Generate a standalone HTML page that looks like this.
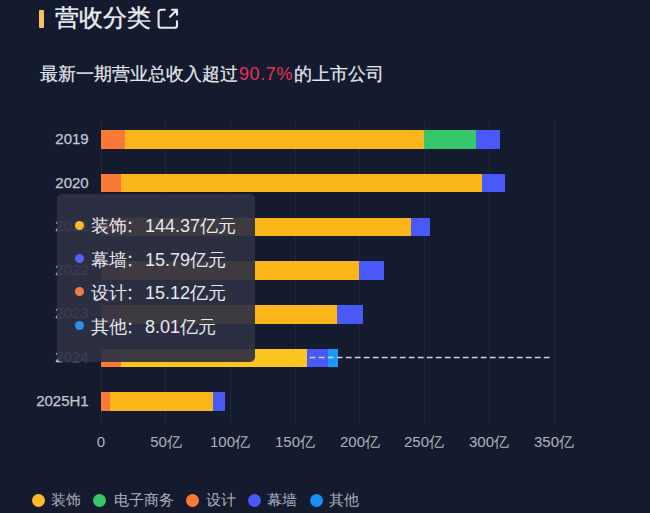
<!DOCTYPE html>
<html><head><meta charset="utf-8">
<style>
html,body{margin:0;padding:0;}
body{width:650px;height:513px;overflow:hidden;background:#141b2e;font-family:"Liberation Sans",sans-serif;position:relative;}
.a{position:absolute;white-space:nowrap;}
.tbar{left:39.2px;top:9.5px;width:4.6px;height:18px;background:#f2c462;border-radius:1px;}
.title{left:54.5px;top:1px;font-size:24px;line-height:34px;color:#eceef4;-webkit-text-stroke-width:0.35px;}
.sub{left:40px;top:60px;font-size:18px;line-height:28px;color:#e6e8ee;-webkit-text-stroke-width:0.2px;}
.sub b{font-weight:normal;color:#e5325a;-webkit-text-stroke-width:0;letter-spacing:0.6px;margin-left:1px;margin-right:0.5px;}
.yl{font-size:15px;line-height:20px;color:#c2c6d2;-webkit-text-stroke-width:0.25px;text-align:right;width:80px;left:8.7px;}
.g{width:1px;top:120px;height:304px;background:#1f2738;}
.bar{height:18.6px;}
.xl{font-size:15px;line-height:20px;color:#aeb2bf;width:60px;text-align:center;top:432.3px;}
.tip{left:57.2px;top:193.7px;width:197.5px;height:168.4px;border-radius:5px;background:rgba(46,48,68,0.93);}
.tr{left:91px;font-size:18px;line-height:26px;color:#e8e8ee;}
.td{width:9px;height:9px;border-radius:50%;}
.c{font-style:normal;font-weight:normal;-webkit-text-stroke-width:0.3px;display:inline-block;width:18px;text-align:left;padding-left:0.5px;box-sizing:border-box;}
.ld{width:13px;height:13px;border-radius:50%;top:493.5px;}
.lt{font-size:15.2px;line-height:20px;color:#acb0bd;top:489.9px;}
</style></head><body>
<div class="a tbar"></div>
<div class="a title">营收分类</div>
<svg class="a" style="left:156px;top:7px" width="24" height="24" viewBox="0 0 24 24">
<path d="M8.8 2.8 H5 Q2.6 2.8 2.6 5.2 V18.4 Q2.6 20.8 5 20.8 H18.6 Q21 20.8 21 18.4 V14.3" fill="none" stroke="#e6e8f0" stroke-width="2.1" stroke-linecap="round"/>
<path d="M14 9.8 L21 2.8 M16 2.8 H21 V7.8" fill="none" stroke="#e6e8f0" stroke-width="2.1" stroke-linecap="round" stroke-linejoin="round"/>
</svg>
<div class="a sub">最新一期营业总收入超过<b>90.7%</b>的上市公司</div>

<!-- grid -->
<div class="a g" style="left:101.4px"></div>
<div class="a g" style="left:165.4px"></div>
<div class="a g" style="left:230.4px"></div>
<div class="a g" style="left:295.4px"></div>
<div class="a g" style="left:359.4px"></div>
<div class="a g" style="left:424.4px"></div>
<div class="a g" style="left:489.4px"></div>
<div class="a g" style="left:554.4px"></div>

<!-- year labels -->
<div class="a yl" style="top:128.8px">2019</div>
<div class="a yl" style="top:172.5px">2020</div>
<div class="a yl" style="top:216.2px">2021</div>
<div class="a yl" style="top:259.5px">2022</div>
<div class="a yl" style="top:303.3px">2023</div>
<div class="a yl" style="top:347.4px">2024</div>
<div class="a yl" style="top:391.2px">2025H1</div>

<!-- bars -->
<div class="a bar" style="top:130.2px;left:101.4px;width:24px;background:#f97a36"></div>
<div class="a bar" style="top:130.2px;left:125.4px;width:299px;background:#fcb61a"></div>
<div class="a bar" style="top:130.2px;left:424.4px;width:52px;background:#36c76b"></div>
<div class="a bar" style="top:130.2px;left:476.4px;width:23.7px;background:#4859f7"></div>

<div class="a bar" style="top:173.9px;left:101.4px;width:20px;background:#f97a36"></div>
<div class="a bar" style="top:173.9px;left:121.4px;width:361px;background:#fcb61a"></div>
<div class="a bar" style="top:173.9px;left:482.4px;width:23px;background:#4859f7"></div>

<div class="a bar" style="top:217.7px;left:101.4px;width:20px;background:#f97a36"></div>
<div class="a bar" style="top:217.7px;left:121.4px;width:290px;background:#fcb61a"></div>
<div class="a bar" style="top:217.7px;left:411.4px;width:18.5px;background:#4859f7"></div>

<div class="a bar" style="top:261.4px;left:101.4px;width:20px;background:#f97a36"></div>
<div class="a bar" style="top:261.4px;left:121.4px;width:238px;background:#fcb61a"></div>
<div class="a bar" style="top:261.4px;left:359.4px;width:24.5px;background:#4859f7"></div>

<div class="a bar" style="top:305.1px;left:101.4px;width:20px;background:#f97a36"></div>
<div class="a bar" style="top:305.1px;left:121.4px;width:216px;background:#fcb61a"></div>
<div class="a bar" style="top:305.1px;left:337.4px;width:25.5px;background:#4859f7"></div>

<div class="a bar" style="top:348.6px;left:101.4px;width:20px;background:#f97a36"></div>
<div class="a bar" style="top:348.6px;left:121.4px;width:185.9px;background:#fcc41e"></div>
<div class="a bar" style="top:348.6px;left:307.3px;width:20.7px;background:#4859f7"></div>
<div class="a bar" style="top:348.6px;left:328px;width:10px;background:#1a98f6"></div>
<svg class="a" style="left:0;top:0" width="650" height="513"><line x1="309.8" y1="357.6" x2="552.5" y2="357.6" stroke="#cfd2de" stroke-width="1.5" stroke-dasharray="5.8 3.2"/></svg>

<div class="a bar" style="top:392.4px;left:101.4px;width:9px;background:#f97a36"></div>
<div class="a bar" style="top:392.4px;left:110.4px;width:103px;background:#fcb61a"></div>
<div class="a bar" style="top:392.4px;left:213.4px;width:11.7px;background:#4859f7"></div>

<!-- x labels -->
<div class="a xl" style="left:71px">0</div>
<div class="a xl" style="left:136px">50亿</div>
<div class="a xl" style="left:200px">100亿</div>
<div class="a xl" style="left:265px">150亿</div>
<div class="a xl" style="left:330px">200亿</div>
<div class="a xl" style="left:394px">250亿</div>
<div class="a xl" style="left:459px">300亿</div>
<div class="a xl" style="left:524px">350亿</div>

<!-- tooltip -->
<div class="a tip"></div>
<div class="a td" style="left:75.2px;top:220.5px;background:#f7bb2c"></div>
<div class="a tr" style="top:213px">装饰<i class="c">:</i>144.37亿元</div>
<div class="a td" style="left:75.2px;top:253.7px;background:#5561f2"></div>
<div class="a tr" style="top:246.7px">幕墙<i class="c">:</i>15.79亿元</div>
<div class="a td" style="left:75.2px;top:287.3px;background:#f07c48"></div>
<div class="a tr" style="top:280px">设计<i class="c">:</i>15.12亿元</div>
<div class="a td" style="left:75.2px;top:320.7px;background:#2a8ff2"></div>
<div class="a tr" style="top:313.5px">其他<i class="c">:</i>8.01亿元</div>

<!-- legend -->
<div class="a ld" style="left:31.6px;background:#fbba28"></div>
<div class="a lt" style="left:51px">装饰</div>
<div class="a ld" style="left:93.2px;background:#36c76b"></div>
<div class="a lt" style="left:113.5px">电子商务</div>
<div class="a ld" style="left:185.6px;background:#f97a36"></div>
<div class="a lt" style="left:206px">设计</div>
<div class="a ld" style="left:248px;background:#4859f7"></div>
<div class="a lt" style="left:266.5px">幕墙</div>
<div class="a ld" style="left:309.6px;background:#1a8ff6"></div>
<div class="a lt" style="left:329px">其他</div>
</body></html>
